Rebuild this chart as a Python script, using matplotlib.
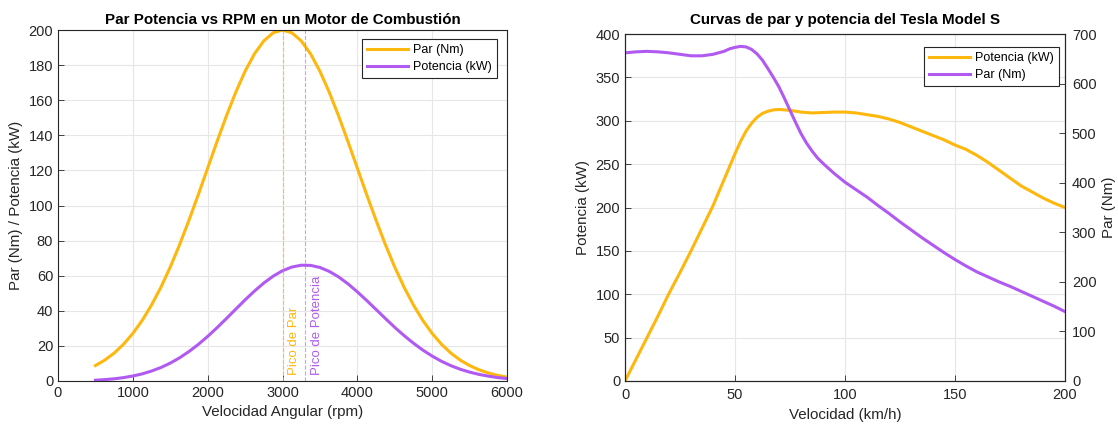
import matplotlib
matplotlib.use("Agg")
import matplotlib.pyplot as plt
from matplotlib.ticker import MultipleLocator

plt.rcParams['font.family'] = ['Liberation Sans', 'DejaVu Sans']

# ---------------- Left chart data ----------------
rpm = [500, 625, 750, 875, 1000, 1125, 1250, 1375, 1500, 1625, 1750, 1875, 2000, 2125,
       2250, 2375, 2500, 2625, 2750, 2875, 3000, 3125, 3250, 3375, 3500, 3625, 3750,
       3875, 4000, 4125, 4250, 4375, 4500, 4625, 4750, 4875, 5000, 5125, 5250, 5375,
       5500, 5625, 5750, 5875, 6000]
par_nm = [8.8, 11.9, 15.9, 20.9, 27.1, 34.5, 43.3, 53.4, 64.9, 77.7, 91.6, 106.2, 121.3,
          136.4, 151.0, 164.5, 176.5, 186.4, 193.8, 198.4, 200.0, 198.4, 193.8, 186.4,
          176.5, 164.5, 151.0, 136.4, 121.3, 106.2, 91.6, 77.7, 64.9, 53.4, 43.3, 34.5,
          27.1, 20.9, 15.9, 11.9, 8.8, 6.4, 4.6, 3.2, 2.2]
pot_kw = [0.46, 0.78, 1.25, 1.92, 2.84, 4.06, 5.67, 7.69, 10.19, 13.22, 16.79, 20.85,
          25.41, 30.35, 35.58, 40.91, 46.21, 51.24, 55.81, 59.73, 62.83, 64.93, 65.96,
          65.88, 64.69, 62.45, 59.30, 55.35, 50.81, 45.88, 40.77, 35.60, 30.58, 25.86,
          21.54, 17.61, 14.19, 11.22, 8.74, 6.70, 5.07, 3.77, 2.77, 1.97, 1.38]
peak_par_rpm = 3000
peak_pot_rpm = 3300

# ---------------- Right chart data ----------------
vel_pot = [0, 5, 10, 15, 20, 25, 30, 35, 40, 45, 50, 52.5, 55, 57.5, 60, 62.5, 65, 67.5,
           70, 75, 80, 85, 90, 95, 100, 105, 110, 115, 120, 125, 130, 135, 140, 145, 150,
           155, 160, 165, 170, 175, 180, 185, 190, 195, 200]
tesla_pot = [0, 25, 50, 75, 101, 125, 150, 176, 202, 232, 262, 276, 288, 297, 304, 308.5,
             311, 312.5, 313, 312, 310, 309, 309.5, 310, 310, 309, 307, 305, 302, 298, 293,
             288, 283, 278, 272, 267, 260, 252, 243, 234, 225, 218, 211, 205, 200]
vel_par = [0, 5, 10, 15, 20, 25, 30, 35, 40, 45, 47.5, 50, 52.5, 55, 57.5, 60, 62.5, 65,
           67.5, 70, 72.5, 75, 77.5, 80, 82.5, 85, 87.5, 90, 95, 100, 105, 110, 115, 120,
           125, 130, 135, 140, 145, 150, 155, 160, 165, 170, 175, 180, 185, 190, 195, 200]
tesla_par = [662, 664, 665, 664, 662, 659, 656, 656, 659, 665, 670, 673, 675, 674, 669,
             660, 647, 630, 612, 593, 570, 546, 522, 499, 480, 464, 450, 439, 419, 401,
             386, 371, 354, 338, 321, 305, 289, 274, 259, 245, 232, 220, 210, 200, 191,
             181, 171, 161, 151, 140]

ORANGE = '#FDB70D'
PURPLE = '#B15AF2'
GRID = '#E6E6E6'
SPINE = '#262626'

fig = plt.figure(figsize=(11.18, 4.25), dpi=100)

def style(ax):
    ax.grid(True, color=GRID, linewidth=0.8)
    ax.set_axisbelow(True)
    for s in ax.spines.values():
        s.set_color(SPINE)
        s.set_linewidth(0.8)
    ax.tick_params(direction='in', length=4, width=0.6, colors=SPINE, labelsize=10.5,
                   top=False, right=False)

leg_kw = dict(loc='upper right', fontsize=9, handlelength=3.3, handletextpad=0.4,
              fancybox=False, edgecolor=SPINE, framealpha=1, borderaxespad=0.0,
              borderpad=0.4, labelspacing=0.4)

# Left
ax1 = fig.add_axes([58/1118, 1-381/425, (507-58)/1118, (381-30)/425])
style(ax1)
ax1.plot(rpm, par_nm, color=ORANGE, lw=2.2, label='Par (Nm)')
ax1.plot(rpm, pot_kw, color=PURPLE, lw=2.2, label='Potencia (kW)')
ax1.axvline(peak_par_rpm, color=ORANGE, ls='--', lw=0.8, alpha=0.8)
ax1.axvline(peak_pot_rpm, color=PURPLE, ls='--', lw=0.8, alpha=0.6)
ax1.annotate('Pico de Par', xy=(peak_par_rpm, 0), xytext=(4, 4), textcoords='offset points',
             rotation=90, ha='left', va='bottom', color=ORANGE, fontsize=9.5)
ax1.annotate('Pico de Potencia', xy=(peak_pot_rpm, 0), xytext=(4, 4), textcoords='offset points',
             rotation=90, ha='left', va='bottom', color=PURPLE, fontsize=9.5)
ax1.set_xlim(0, 6000)
ax1.set_ylim(0, 200)
ax1.xaxis.set_major_locator(MultipleLocator(1000))
ax1.yaxis.set_major_locator(MultipleLocator(20))
ax1.set_xlabel('Velocidad Angular (rpm)', fontsize=10.9, color=SPINE)
ax1.set_ylabel('Par (Nm) / Potencia (kW)', fontsize=10.9, color=SPINE)
ax1.set_title('Par Potencia vs RPM en un Motor de Combustión', fontsize=10.9, fontweight='bold', pad=4)
leg = ax1.legend(bbox_to_anchor=(1 - 10/449, 1 - 9/351), **leg_kw)
leg.get_frame().set_linewidth(0.8)

# Right
ax2 = fig.add_axes([625/1118, 1-381/425, (1065-625)/1118, (381-34)/425])
style(ax2)
l1, = ax2.plot(vel_pot, tesla_pot, color=ORANGE, lw=2.2, label='Potencia (kW)')
ax2.set_xlim(0, 200)
ax2.set_ylim(0, 400)
ax2.xaxis.set_major_locator(MultipleLocator(50))
ax2.yaxis.set_major_locator(MultipleLocator(50))
ax2.tick_params(axis='x', pad=5)
ax2.set_xlabel('Velocidad (km/h)', fontsize=10.9, color=SPINE)
ax2.set_ylabel('Potencia (kW)', fontsize=10.9, color=SPINE)
ax2.set_title('Curvas de par y potencia del Tesla Model S', fontsize=10.9, fontweight='bold', pad=7)

ax3 = ax2.twinx()
l2, = ax3.plot(vel_par, tesla_par, color=PURPLE, lw=2.2, label='Par (Nm)')
ax3.set_ylim(0, 700)
ax3.yaxis.set_major_locator(MultipleLocator(100))
ax3.tick_params(direction='in', length=4, width=0.6, colors=SPINE, labelsize=10.5, pad=5)
ax3.set_ylabel('Par (Nm)', fontsize=10.9, color=SPINE)
for s in ax3.spines.values():
    s.set_color(SPINE)
    s.set_linewidth(0.8)
leg2 = ax3.legend([l1, l2], ['Potencia (kW)', 'Par (Nm)'],
                  bbox_to_anchor=(1 - 6/440, 1 - 13/347), **leg_kw)
leg2.get_frame().set_linewidth(0.8)

fig.savefig('out.png', dpi=100)
